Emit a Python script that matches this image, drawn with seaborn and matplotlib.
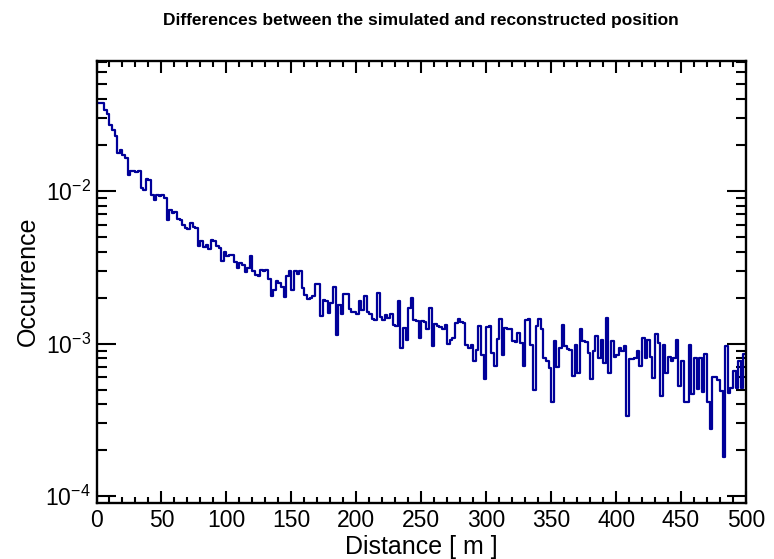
import numpy as np
import pandas as pd
import matplotlib
matplotlib.use("Agg")
import matplotlib.pyplot as plt
import seaborn as sns
from matplotlib.ticker import MultipleLocator, LogLocator, NullFormatter

# ---------------- data ----------------
title = "Differences between the simulated and reconstructed position"
x_label = "Distance [ m ]"
y_label = "Occurrence"
distance_range = (0, 500)
bin_width = 2.0
x_ticks = [0, 50, 100, 150, 200, 250, 300, 350, 400, 450, 500]

occ_000_099 = [
    0.0374, 0.0374, 0.0374, 0.0339, 0.0317, 0.0270, 0.0251, 0.0227, 0.0176, 0.0185,
    0.0172, 0.0164, 0.0126, 0.0134, 0.0134, 0.0132, 0.0134, 0.0104, 0.0102, 0.0120,
    0.0118, 0.0094, 0.0087, 0.0094, 0.0093, 0.0094, 0.0090, 0.00646, 0.0075, 0.00714,
    0.0073, 0.0065, 0.0064, 0.00593, 0.0057, 0.0056, 0.0062, 0.0058, 0.0057, 0.00433,
    0.00467, 0.0043, 0.0044, 0.00416, 0.00473, 0.0047, 0.00433, 0.0042, 0.00345, 0.00395,
]
occ_100_199 = [
    0.00372, 0.00382, 0.0038, 0.0034, 0.00313, 0.00337, 0.00328, 0.00292, 0.00313, 0.00376,
    0.00297, 0.00282, 0.00275, 0.00301, 0.00298, 0.00302, 0.00265, 0.00204, 0.00225, 0.00255,
    0.0025, 0.00235, 0.00202, 0.00278, 0.00297, 0.00223, 0.00297, 0.00287, 0.00297, 0.00231,
    0.00209, 0.00196, 0.00198, 0.00204, 0.00247, 0.00245, 0.00151, 0.00194, 0.0019, 0.00159,
    0.00185, 0.00235, 0.00113, 0.0018, 0.00155, 0.00212, 0.0021, 0.00168, 0.00162, 0.0016,
]
occ_200_299 = [
    0.00157, 0.0019, 0.00167, 0.00206, 0.00162, 0.00155, 0.00145, 0.00143, 0.00214, 0.0015,
    0.00142, 0.00153, 0.00147, 0.00157, 0.00133, 0.00131, 0.0019, 0.00094, 0.00127, 0.00106,
    0.0017, 0.00199, 0.00142, 0.0014, 0.00109, 0.0014, 0.00138, 0.00125, 0.0017, 0.00097,
    0.00135, 0.0013, 0.00128, 0.00125, 0.00132, 0.00099, 0.00105, 0.00109, 0.00137, 0.00145,
    0.00138, 0.00136, 0.000985, 0.000938, 0.000985, 0.000766, 0.000904, 0.0013, 0.000835, 0.000588,
]
occ_300_399 = [
    0.00128, 0.0013, 0.000869, 0.000711, 0.00107, 0.00145, 0.000835, 0.00127, 0.00125, 0.00124,
    0.00104, 0.00102, 0.00117, 0.00101, 0.000718, 0.00142, 0.00145, 0.000985, 0.0005, 0.0013,
    0.00145, 0.00124, 0.000806, 0.000766, 0.000693, 0.000413, 0.00104, 0.000704, 0.000938, 0.00133,
    0.00096, 0.000923, 0.00091, 0.000611, 0.000985, 0.000637, 0.00125, 0.00104, 0.00102, 0.000869,
    0.000588, 0.00089, 0.00112, 0.000806, 0.00106, 0.00074, 0.00147, 0.000643, 0.00104, 0.000818,
]
occ_400_499 = [
    0.000835, 0.000938, 0.00089, 0.00097, 0.000335, 0.000786, 0.000786, 0.000806, 0.00089, 0.000718,
    0.00109, 0.000806, 0.00106, 0.000818, 0.000597, 0.00115, 0.00101, 0.000453, 0.000985, 0.000643,
    0.000818, 0.000766, 0.000806, 0.00106, 0.000531, 0.000766, 0.000413, 0.000413, 0.000985, 0.000465,
    0.000806, 0.000503, 0.000806, 0.00048, 0.00086, 0.000413, 0.000274, 0.000606, 0.0006, 0.00058,
    0.000488, 0.00018, 0.00096, 0.000476, 0.000513, 0.00066, 0.000513, 0.000766, 0.000513, 0.00085,
]
occurrence = occ_000_099 + occ_100_199 + occ_200_299 + occ_300_399 + occ_400_499

# ---------------- style ----------------
sns.set_style("ticks")
plt.rcParams["font.family"] = ["Liberation Sans", "DejaVu Sans"]
plt.rcParams["mathtext.fontset"] = "custom"
plt.rcParams["mathtext.rm"] = "Liberation Sans"
plt.rcParams["mathtext.it"] = "Liberation Sans:italic"
plt.rcParams["mathtext.bf"] = "Liberation Sans:bold"
plt.rcParams["mathtext.sf"] = "Liberation Sans"
for key in ["text.color", "axes.labelcolor", "xtick.color", "ytick.color",
            "xtick.labelcolor", "ytick.labelcolor", "axes.edgecolor"]:
    plt.rcParams[key] = "black"

n_bins = len(occurrence)
centers = distance_range[0] + bin_width * (np.arange(n_bins) + 0.5)
df = pd.DataFrame({"distance": centers, "occurrence": occurrence})

W, H = 774, 559
fig = plt.figure(figsize=(W / 100, H / 100), dpi=100)
ax = fig.add_axes([96.5 / W, 1 - 502.5 / H, 649.5 / W, 441.5 / H])

sns.histplot(data=df, x="distance", weights="occurrence", binwidth=bin_width,
             binrange=distance_range, element="step", fill=False,
             color="#000099", linewidth=1.6, ax=ax)
ax.set_yscale("log")
ax.set_xlim(*distance_range)
ax.set_ylim(9.1e-5, 0.0708)

ax.set_xticks(x_ticks)
ax.set_xticklabels([str(t) for t in x_ticks])
ax.xaxis.set_minor_locator(MultipleLocator(10))
ax.yaxis.set_major_locator(LogLocator(base=10))
ax.yaxis.set_minor_locator(LogLocator(base=10, subs=np.arange(2, 10)))
ax.yaxis.set_minor_formatter(NullFormatter())

ax.tick_params(axis="both", which="both", direction="in", top=True, right=True,
               color="black", width=1.5)
ax.tick_params(axis="x", which="major", length=8.8, labelsize=16.5, pad=5)
ax.tick_params(axis="x", which="minor", length=4.4)
ax.tick_params(axis="y", which="major", length=13.8, labelsize=16.5, pad=4)
ax.tick_params(axis="y", which="minor", length=7.2)

for s in ax.spines.values():
    s.set_linewidth(1.7)
    s.set_color("black")

ax.set_xlabel(x_label, fontsize=18, labelpad=2)
ax.set_ylabel(y_label, fontsize=18, labelpad=4)
fig.text(421 / W, 1 - 20 / H, title, ha="center", va="center", fontsize=12.5, fontweight="bold")

fig.savefig("out.png", dpi=100)
